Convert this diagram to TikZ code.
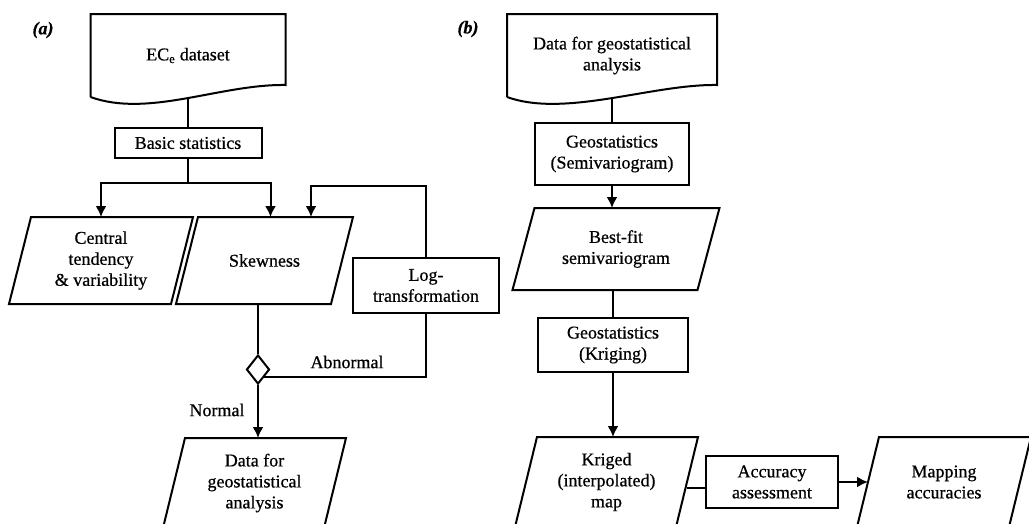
\documentclass[tikz,border=0pt]{standalone}
\usepackage{fontspec}
\setmainfont{Liberation Serif}[FakeBold=0.6]
\usetikzlibrary{shapes.geometric,arrows.meta}

\begin{document}
\begin{tikzpicture}[x=1pt, y=-1pt, >={Latex[length=11pt,width=11pt]},
  line width=2pt, font=\fontsize{18}{21}\selectfont,
  box/.style={draw, align=center, inner sep=2pt},
  io/.style={align=center, inner sep=2pt, outer sep=0pt},
  doc/.style={align=center, inner sep=0pt, outer sep=0pt},
  tag/.style={font=\fontsize{18}{20}\selectfont\bfseries\itshape}]
\useasboundingbox (0,0) rectangle (1029,523);
\clip (0,0) rectangle (1029,523);

% (a) basic statistics of the data
\node[tag] (taga) at (43,30) {(a)};
\node[doc, minimum width=195pt, minimum height=83pt] (ecdata) at (188,55.5) {EC\textsubscript{e} dataset};
\node[box, minimum width=147pt, minimum height=30pt] (basic) at (188,143) {Basic statistics};
\node[io, minimum width=162pt, minimum height=87pt] (central) at (101,260.5) {Central\\tendency\\\& variability};
\node[io, minimum width=155pt, minimum height=87pt] (skew) at (264.5,260.5) {Skewness};
\node[box, minimum width=146pt, minimum height=55pt] (logt) at (426,285.5) {Log-\\transformation};
\node[draw, diamond, minimum width=23pt, minimum height=29pt, inner sep=0pt] (chk) at (258,369.5) {};
\node[io, minimum width=161pt, minimum height=90pt] (dataA) at (254.5,483) {Data for\\geostatistical\\analysis};
\node (abn) at (347,362) {Abnormal};
\node (nrm) at (217,410) {Normal};

% (b) geostatistics
\node[tag] (tagb) at (468,29) {(b)};
\node[doc, minimum width=210pt, minimum height=83pt] (gsdata) at (612,55.5) {Data for geostatistical\\analysis};
\node[box, minimum width=154pt, minimum height=62pt] (semi) at (612,154) {Geostatistics\\(Semivariogram)};
\node[io, minimum width=185pt, minimum height=82pt] (bestfit) at (616,249) {Best-fit\\semivariogram};
\node[box, minimum width=150pt, minimum height=54pt] (krig) at (613,345) {Geostatistics\\(Kriging)};
\node[io, minimum width=161pt, minimum height=90pt] (kriged) at (606.5,482) {Kriged\\(interpolated)\\map};
\node[box, minimum width=132pt, minimum height=52pt] (acc) at (772,482) {Accuracy\\assessment};
\node[io, minimum width=152pt, minimum height=90pt] (mapacc) at (944,482) {Mapping\\accuracies};

\foreach \d in {ecdata,gsdata}
  \draw (\d.south west) -- (\d.north west) -- (\d.north east) -- ([yshift=12pt]\d.south east)
    .. controls +(-65,-1) and +(58,21) .. (\d.south west);
\foreach \p in {central,skew,dataA,bestfit,kriged,mapacc}
  \draw ([xshift=11pt]\p.north west) -- ([xshift=11pt]\p.north east)
    -- ([xshift=-11pt]\p.south east) -- ([xshift=-11pt]\p.south west) -- cycle;

\coordinate (fork) at (188,183);
\coordinate (loop) at (311,186);
\draw (ecdata.south) -- (basic);
\draw (basic) -- (fork);
\draw[->] (fork) -| (central);
\draw[->] (fork) -| ([xshift=6pt]skew.north);
\draw[->] (logt) |- (loop) -- (loop |- skew.north);
\draw (chk.north |- skew.south) -- (chk);
\draw[->] (chk) -- (chk |- dataA.north);
\draw (chk.south east) -| (logt);

\draw (gsdata.south) -- (semi);
\draw[->] (semi.south) -- (semi.south |- bestfit.north);
\draw (bestfit.south -| krig.north) -- (krig);
\draw[->] (krig) -- (krig.south |- kriged.north);
\draw ([yshift=-6pt]acc.west) -- ([yshift=-6pt]kriged.east);
\draw[->] (acc) -- (mapacc);
\end{tikzpicture}
\end{document}
